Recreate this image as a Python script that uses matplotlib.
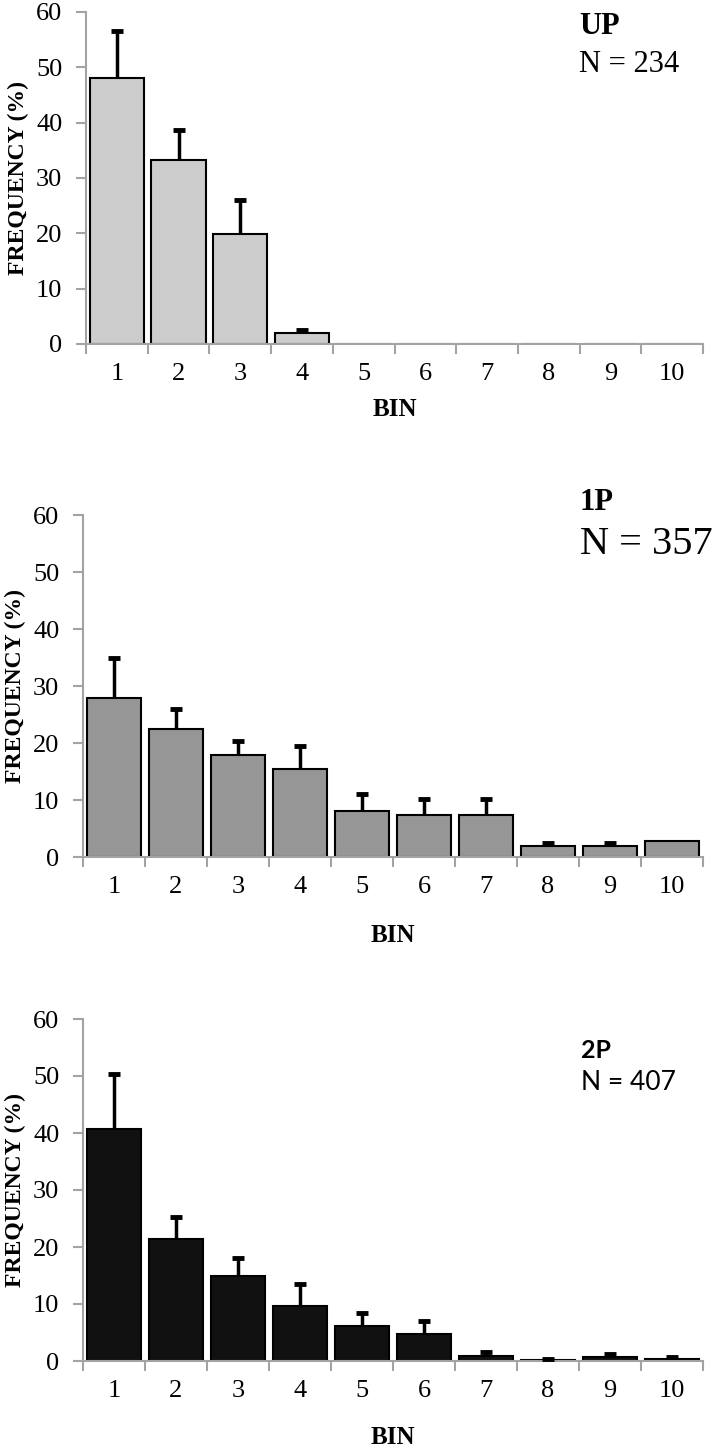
import matplotlib
matplotlib.use("Agg")
import matplotlib.pyplot as plt
import numpy as np

bins = [1, 2, 3, 4, 5, 6, 7, 8, 9, 10]
bin_labels = ["1", "2", "3", "4", "5", "6", "7", "8", "9", "10"]

up_freq = [48.0, 33.3, 19.8, 1.9, 0, 0, 0, 0, 0, 0]
up_err = [8.5, 5.4, 6.2, 0.7, 0, 0, 0, 0, 0, 0]

p1_freq = [27.9, 22.4, 17.9, 15.5, 8.0, 7.4, 7.4, 2.0, 1.9, 2.75]
p1_err = [7.1, 3.5, 2.4, 3.9, 3.0, 2.8, 2.8, 0.5, 0.6, 0]

p2_freq = [40.7, 21.4, 14.9, 9.6, 6.1, 4.7, 0.9, 0.2, 0.7, 0.4]
p2_err = [9.6, 3.9, 3.2, 3.9, 2.3, 2.4, 0.7, 0.2, 0.6, 0.3]

yticks = [0, 10, 20, 30, 40, 50, 60]

W, H = 712, 1454
fig = plt.figure(figsize=(W / 100, H / 100), dpi=100)

SERIF = "Liberation Serif"
SANS = "Lato"
SPINE = "#a3a3a3"


def px_axes(left, right, top, bottom):
    return [left / W, 1 - bottom / H, (right - left) / W, (bottom - top) / H]


panels = [
    dict(rect=px_axes(86, 703, 12, 344), freq=up_freq, err=up_err, color="#cccccc",
         tick_fs=19, title="UP", n="N = 234", title_font=SERIF, n_font=SERIF,
         title_fs=22, n_fs=22, title_xy=(579, 27), n_xy=(579, 64), bin_y=410,
         ylab_x=18),
    dict(rect=px_axes(83, 703, 515, 857), freq=p1_freq, err=p1_err, color="#969696",
         tick_fs=19, title="1P", n="N = 357", title_font=SERIF, n_font=SERIF,
         title_fs=22, n_fs=29, title_xy=(580, 502), n_xy=(580, 545), bin_y=936,
         ylab_x=15),
    dict(rect=px_axes(83, 703, 1019, 1361), freq=p2_freq, err=p2_err, color="#111111",
         tick_fs=19, title="2P", n="N = 407", title_font=SANS, n_font=SANS,
         title_fs=18, n_fs=19, title_xy=(581, 1050), n_xy=(581, 1083), bin_y=1437,
         ylab_x=15),
]

for p in panels:
    ax = fig.add_axes(p["rect"])
    x = np.array(bins)
    ax.bar(x, p["freq"], width=0.88, color=p["color"], edgecolor="black",
           linewidth=1.5, zorder=2)
    err = np.array(p["err"])
    freq = np.array(p["freq"])
    m = err > 0
    cont = ax.errorbar(x[m], freq[m], yerr=[np.zeros(m.sum()), err[m]], fmt="none",
                       ecolor="black", elinewidth=2.5, capsize=4, capthick=3.5, zorder=3)
    caplines = cont.lines[1]
    if len(caplines) >= 2:
        caplines[0].set_visible(False)
    ax.set_xlim(0.5, 10.5)
    ax.set_ylim(0, 60)
    ax.set_yticks(yticks)
    ax.set_yticklabels([str(v) for v in yticks], fontfamily=SERIF, fontsize=p["tick_fs"])
    ax.set_xticks(np.arange(0.5, 11, 1.0))
    ax.set_xticklabels([])
    ax.set_xticks(x, minor=True)
    ax.set_xticklabels(bin_labels, minor=True, fontfamily=SERIF, fontsize=p["tick_fs"])
    ax.tick_params(axis="x", which="major", length=7, width=1.5, color=SPINE, direction="out")
    ax.tick_params(axis="x", which="minor", length=0, pad=14)
    ax.tick_params(axis="y", length=7, width=1.5, color=SPINE, direction="out", pad=10)
    for s in ["top", "right"]:
        ax.spines[s].set_visible(False)
    for s in ["left", "bottom"]:
        ax.spines[s].set_color(SPINE)
        ax.spines[s].set_linewidth(1.5)
    ax.set_facecolor("none")

    l, b, w, h = p["rect"]
    fig.text(p["ylab_x"] / W, b + h / 2, "FREQUENCY (%)", rotation=90, ha="center",
             va="center", fontfamily=SERIF, fontweight="bold", fontsize=17)
    fig.text((l + w / 2), 1 - p["bin_y"] / H, "BIN", ha="center", va="center",
             fontfamily=SERIF, fontweight="bold", fontsize=18)
    fig.text(p["title_xy"][0] / W, 1 - p["title_xy"][1] / H, p["title"], ha="left",
             va="center", fontfamily=p["title_font"], fontweight="bold", fontsize=p["title_fs"])
    fig.text(p["n_xy"][0] / W, 1 - p["n_xy"][1] / H, p["n"], ha="left",
             va="center", fontfamily=p["n_font"], fontsize=p["n_fs"])

fig.savefig("out.png", dpi=100, facecolor="white")
